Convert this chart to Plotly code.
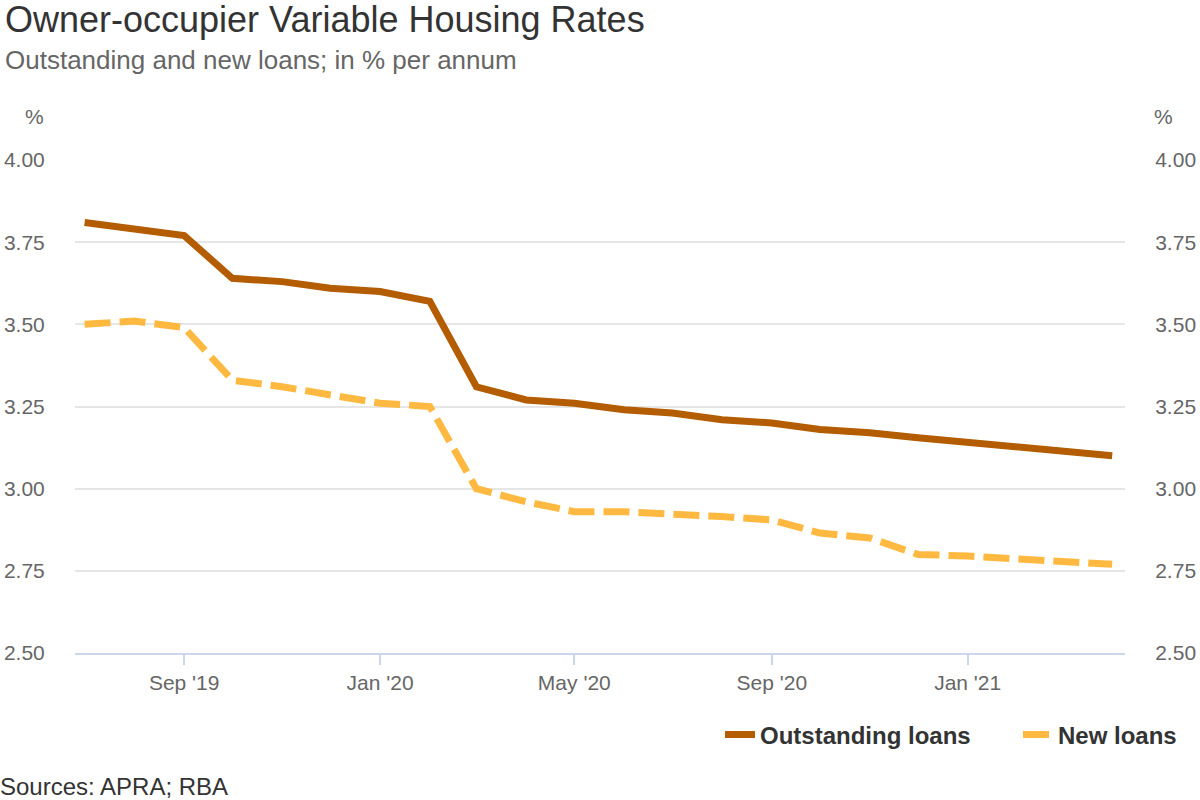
import plotly.graph_objects as go

dates = ["2019-07-01", "2019-08-01", "2019-09-01", "2019-10-01", "2019-11-01", "2019-12-01",
         "2020-01-01", "2020-02-01", "2020-03-01", "2020-04-01", "2020-05-01", "2020-06-01",
         "2020-07-01", "2020-08-01", "2020-09-01", "2020-10-01", "2020-11-01", "2020-12-01",
         "2021-01-01", "2021-02-01", "2021-03-01", "2021-04-01"]
outstanding = [3.81, 3.79, 3.77, 3.64, 3.63, 3.61, 3.60, 3.57, 3.31, 3.27, 3.26, 3.24,
               3.23, 3.21, 3.20, 3.18, 3.17, 3.155, 3.14, 3.125, 3.11, 3.10]
new_loans = [3.50, 3.51, 3.49, 3.33, 3.31, 3.285, 3.26, 3.25, 3.00, 2.96, 2.93, 2.93,
             2.925, 2.915, 2.905, 2.865, 2.85, 2.80, 2.795, 2.785, 2.78, 2.77]
tick_vals = ["2019-09-01", "2020-01-01", "2020-05-01", "2020-09-01", "2021-01-01"]
tick_text = ["Sep '19", "Jan '20", "May '20", "Sep '20", "Jan '21"]
y_ticks = [2.50, 2.75, 3.00, 3.25, 3.50, 3.75, 4.00]

FONT = "Liberation Sans, Arial, sans-serif"

fig = go.Figure()
fig.add_trace(go.Scatter(x=dates, y=outstanding, name="Outstanding loans", mode="lines",
                         line=dict(color="#b35c00", width=7)))
fig.add_trace(go.Scatter(x=dates, y=new_loans, name="New loans", mode="lines",
                         line=dict(color="#ffb940", width=7, dash="26px,9px")))
# invisible trace on second axis to show right-hand labels
fig.add_trace(go.Scatter(x=dates, y=outstanding, yaxis="y2", mode="lines",
                         line=dict(color="rgba(0,0,0,0)"), showlegend=False, hoverinfo="skip"))

yax = dict(range=[2.5, 4.0], tickvals=y_ticks, tickformat=".2f",
           tickfont=dict(size=21, color="#666666", family=FONT),
           showgrid=True, gridcolor="#e6e6e6", gridwidth=1.5, zeroline=False,
           showline=False, ticks="outside", ticklen=25, tickcolor="rgba(0,0,0,0)",
           fixedrange=True, automargin=False)

fig.update_layout(
    width=1200, height=800,
    paper_bgcolor="white", plot_bgcolor="white",
    margin=dict(l=75, r=75, t=160, b=147, autoexpand=False),
    font=dict(family=FONT, color="#333333"),
    xaxis=dict(type="date", range=["2019-06-25", "2021-04-09"],
               tickvals=tick_vals, ticktext=tick_text,
               tickfont=dict(size=21, color="#666666", family=FONT),
               showgrid=False, zeroline=False, automargin=False,
               showline=True, linecolor="#ccd6eb", linewidth=2,
               ticks="outside", ticklen=10, tickcolor="#ccd6eb", tickwidth=1.5),
    yaxis=yax,
    yaxis2=dict(yax, overlaying="y", side="right", showgrid=False),
    showlegend=True,
    legend=dict(orientation="h", x=0.6143, xanchor="left", y=-0.166, yanchor="middle",
                font=dict(size=24, color="#333333", family=FONT, weight="bold"),
                entrywidth=253, entrywidthmode="pixels",
                bgcolor="rgba(0,0,0,0)"),
    annotations=[
        dict(text="Owner-occupier Variable Housing Rates", xref="paper", yref="paper",
             x=-0.0686, y=1.284, xanchor="left", yanchor="middle", showarrow=False,
             font=dict(size=36, color="#333333", family=FONT)),
        dict(text="Outstanding and new loans; in % per annum", xref="paper", yref="paper",
             x=-0.0686, y=1.2028, xanchor="left", yanchor="middle", showarrow=False,
             font=dict(size=26, color="#666666", family=FONT)),
        dict(text="%", xref="paper", yref="paper", x=-0.0381, y=1.0892,
             xanchor="center", yanchor="middle", showarrow=False,
             font=dict(size=21, color="#666666", family=FONT)),
        dict(text="%", xref="paper", yref="paper", x=1.0371, y=1.0892,
             xanchor="center", yanchor="middle", showarrow=False,
             font=dict(size=21, color="#666666", family=FONT)),
        dict(text="Sources: APRA; RBA", xref="paper", yref="paper",
             x=-0.0733, y=-0.2718, xanchor="left", yanchor="middle", showarrow=False,
             font=dict(size=24, color="#333333", family=FONT)),
    ],
)

fig.write_html("out.html", config={"displayModeBar": False},
               post_script="document.body.style.margin='0';")
